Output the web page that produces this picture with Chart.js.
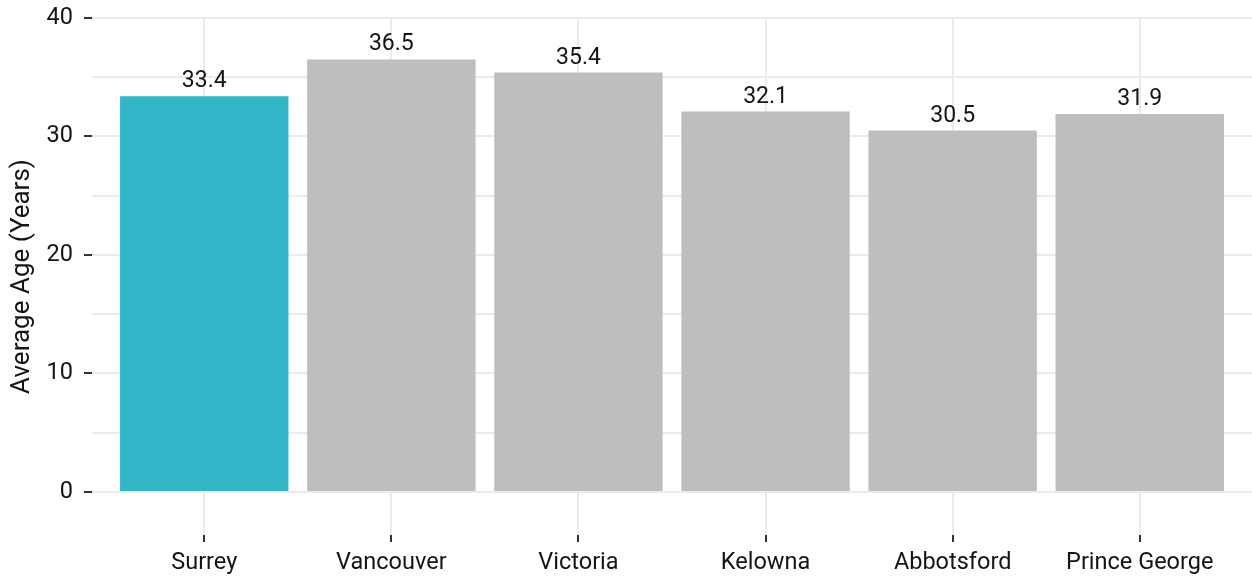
<!DOCTYPE html>
<html>
<head>
<meta charset="utf-8">
<script src="https://cdn.jsdelivr.net/npm/chart.js@4/dist/chart.umd.min.js"></script>
<style>
  html, body { margin: 0; padding: 0; background: #ffffff; }
  #wrap { width: 1252px; height: 582px; }
</style>
</head>
<body>
<div id="wrap"><canvas id="ageChart" width="1252" height="582"></canvas></div>
<script>
// Average age by city
const cities = ["Surrey", "Vancouver", "Victoria", "Kelowna", "Abbotsford", "Prince George"];
const avgAge = [33.4, 36.5, 35.4, 32.1, 30.5, 31.9];
const barColors = ["#33b5c8", "#bebebe", "#bebebe", "#bebebe", "#bebebe", "#bebebe"];
const yTicks = [0, 5, 10, 15, 20, 25, 30, 35, 40];

const textColor = "#141414";
const gridColor = "#ebebeb";
const fontFamily = "Roboto, 'Open Sans', sans-serif";

// value labels above each bar
const valueLabels = {
    id: "valueLabels",
    afterDatasetsDraw(chart) {
        const ctx = chart.ctx;
        const meta = chart.getDatasetMeta(0);
        ctx.save();
        ctx.font = "23px " + fontFamily;
        ctx.fillStyle = textColor;
        ctx.textAlign = "center";
        ctx.textBaseline = "alphabetic";
        meta.data.forEach((bar, i) => {
            ctx.fillText(avgAge[i].toFixed(1), bar.x, bar.y - 9);
        });
        ctx.restore();
    },
};

new Chart(document.getElementById("ageChart").getContext("2d"), {
    type: "bar",
    data: {
        datasets: [
            {
                data: avgAge.map((v, i) => ({ x: i, y: v })),
                backgroundColor: barColors,
                borderWidth: 0,
                barPercentage: 0.9,
                categoryPercentage: 1.0,
            },
        ],
    },
    options: {
        responsive: false,
        animation: false,
        layout: { padding: { top: 18, right: 0, bottom: 0, left: 0 } },
        plugins: {
            legend: { display: false },
            tooltip: { enabled: false },
        },
        scales: {
            x: {
                type: "linear",
                min: -0.6,
                max: 5.6,
                offset: false,
                afterBuildTicks: (scale) => {
                    scale.ticks = cities.map((c, i) => ({ value: i }));
                },
                afterFit: (scale) => {
                    scale.height = 47;
                    scale.paddingLeft = 0;
                    scale.paddingRight = 0;
                },
                border: { display: false },
                grid: {
                    offset: false,
                    color: gridColor,
                    lineWidth: 2,
                    tickColor: "#333333",
                    tickLength: 7,
                    tickWidth: 2,
                },
                ticks: {
                    color: textColor,
                    font: { family: fontFamily, size: 23.5 },
                    padding: 7,
                    maxRotation: 0,
                    autoSkip: false,
                    callback: (value) => cities[value],
                },
            },
            y: {
                min: -3.63,
                max: 40,
                afterBuildTicks: (scale) => {
                    scale.ticks = yTicks.map((v) => ({ value: v }));
                },
                afterFit: (scale) => {
                    scale.width = 92;
                    scale.paddingTop = 0;
                    scale.paddingBottom = 0;
                },
                border: { display: false },
                grid: {
                    color: gridColor,
                    lineWidth: 2,
                    tickLength: 8,
                    tickWidth: 2,
                    tickColor: (ctx) => (ctx.tick && ctx.tick.value % 10 === 0 ? "#333333" : "rgba(0,0,0,0)"),
                },
                ticks: {
                    color: textColor,
                    font: { family: fontFamily, size: 23.5 },
                    padding: 11,
                    callback: (value) => (value % 10 === 0 ? value : ""),
                },
                title: {
                    display: true,
                    text: "Average Age (Years)",
                    color: textColor,
                    font: { family: fontFamily, size: 26 },
                    padding: { top: 7, bottom: 0 },
                },
            },
        },
    },
    plugins: [valueLabels],
});
</script>
</body>
</html>
